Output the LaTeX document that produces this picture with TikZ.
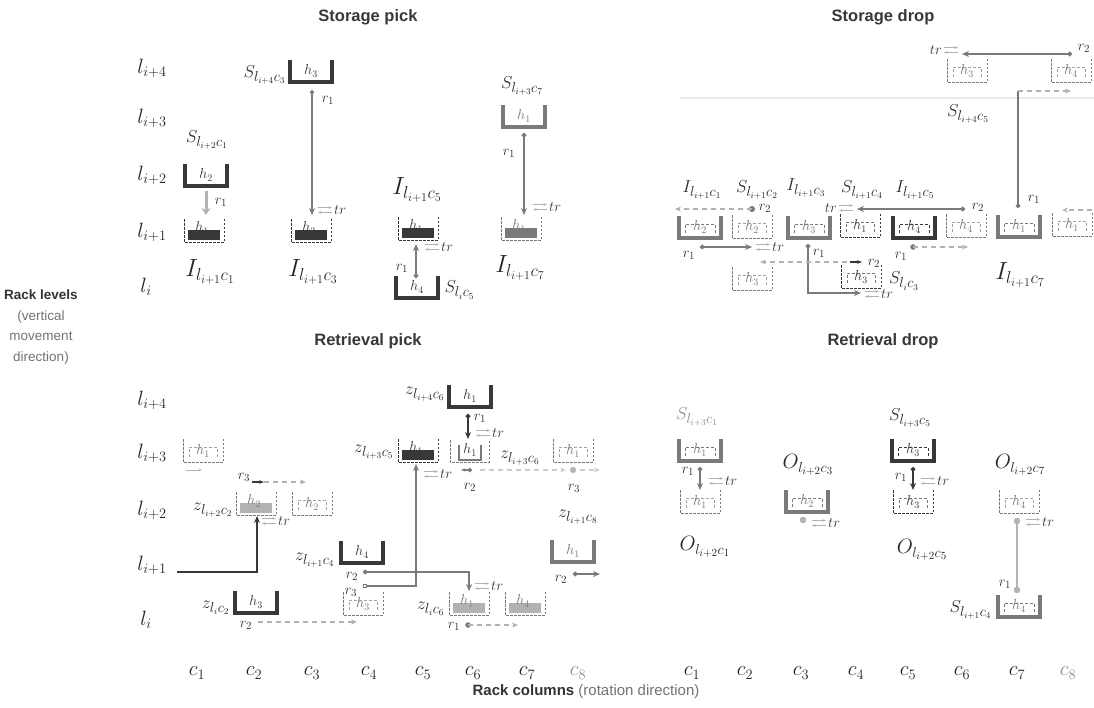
\documentclass[tikz,border=0pt]{standalone}
\usepackage{fontspec}
\setsansfont{Liberation Sans}
\usetikzlibrary{arrows.meta}
\colorlet{dk}{black!78}
\colorlet{md}{black!52}
\colorlet{lt}{black!30}
\colorlet{vl}{black!20}
\tikzset{
  title/.style={font=\sffamily\bfseries\fontsize{16.5}{18}\selectfont, text=black!78},
  rowlab/.style={font=\fontsize{22}{22}\selectfont, text=black!85},
  collab/.style={font=\fontsize{22}{22}\selectfont, text=black!85},
  ilab/.style={font=\fontsize{24}{24}\selectfont, text=black!85},
  ilabs/.style={font=\fontsize{19}{19}\selectfont, text=black!85},
  olab/.style={font=\fontsize{21}{21}\selectfont, text=black!85},
  slab/.style={font=\fontsize{19}{19}\selectfont, text=black!85},
  zlab/.style={font=\fontsize{19}{19}\selectfont, text=black!85},
  hlab/.style={font=\fontsize{14}{14}\selectfont, inner sep=0pt},
  rlab/.style={font=\fontsize{15}{15}\selectfont, text=black!80, inner sep=1pt},
  conn/.style={line width=1.3pt, {Circle[length=4.5pt]}-{Stealth[length=7pt,width=6pt]}},
  dconn/.style={line width=1.1pt, dash pattern=on 5pt off 4pt, -{Stealth[length=6pt,width=5pt]}},
  trarrow/.style={line width=0.9pt, lt},
  slotline/.style={line width=1pt, dash pattern=on 2.5pt off 1.5pt},
}
\newcommand\Tray[5]{%
  \draw[line width=3.5pt, draw=#4] (#2-21,#3-22) -- (#2-21,#3) -- (#2+21,#3) -- (#2+21,#3-22);
  \node[hlab, text=#4] (#1) at (#2,#3-11) {$#5$};}
\newcommand\TrayB[5]{%
  \draw[line width=3.5pt, draw=#4] (#2-21,#3-22) -- (#2-21,#3) -- (#2+21,#3) -- (#2+21,#3-22);
  \draw[densely dashed, line width=0.7pt, draw=#4] (#2-15,#3-5) -- (#2-15,#3-14) -- (#2+15,#3-14) -- (#2+15,#3-5);
  \node[hlab, text=#4] (#1) at (#2,#3-11) {$#5$};}
\newcommand\Slot[5]{%
  \draw[slotline, draw=#4] (#2-20,#3-23) -- (#2-20,#3) -- (#2+20,#3) -- (#2+20,#3-23);
  \draw[densely dashed, line width=0.6pt, draw=#4!70] (#2-14,#3-5) -- (#2-14,#3-15) -- (#2+14,#3-15) -- (#2+14,#3-5);
  \node[hlab, text=#4] (#1) at (#2,#3-11) {$#5$};}
\newcommand\BarSlot[6]{%
  \draw[slotline, draw=#4] (#2-20,#3-23) -- (#2-20,#3) -- (#2+20,#3) -- (#2+20,#3-23);
  \fill[#5] (#2-16,#3-12) rectangle (#2+16,#3-2);
  \node[hlab, text=#4] (#1) at (#2-2,#3-14) {$#6$};}
\newcommand\Tr[3]{%
  \draw[trarrow,-{Stealth[length=3.5pt]}] (#2,#3-2.5) -- (#2+14,#3-2.5);
  \draw[trarrow,{Stealth[length=3.5pt]}-] (#2,#3+2.5) -- (#2+14,#3+2.5);
  \node[rlab, anchor=west] (#1) at (#2+15,#3) {$tr$};}
\newcommand\TrL[3]{%
  \node[rlab, anchor=east] (#1) at (#2,#3) {$tr$};
  \draw[trarrow,-{Stealth[length=3.5pt]}] (#2+1,#3-2.5) -- (#2+15,#3-2.5);
  \draw[trarrow,{Stealth[length=3.5pt]}-] (#2+1,#3+2.5) -- (#2+15,#3+2.5);}
\begin{document}
\begin{tikzpicture}[x=1pt,y=-1pt]
\useasboundingbox (0,0) rectangle (1094,707);
\fill[white] (0,0) rectangle (1094,707);
% faint rack frame hints
\draw[black!8, line width=1.5pt] (680,98) -- (1094,98);
% titles
\node[title] (t1) at (368,17) {Storage pick};
\node[title] (t2) at (883,17) {Storage drop};
\node[title] (t3) at (368,341) {Retrieval pick};
\node[title] (t4) at (883,341) {Retrieval drop};
% axis labels
\node[align=center, font=\sffamily\fontsize{13.5}{20.5}\selectfont, text=black!55] (rl) at (41,327)
  {\textcolor{black!80}{\textbf{Rack levels}}\\(vertical\\movement\\direction)};
\node[font=\sffamily\fontsize{15}{17}\selectfont, text=black!55] (rc) at (586,692)
  {\textcolor{black!80}{\textbf{Rack columns}} (rotation direction)};
% row labels
\foreach \yy/\k in {68/4,118/3,175/2,232/1}{\node[rowlab] (rta\k) at (152,\yy) {$l_{i+\k}$};}
\node[rowlab] (rta0) at (146,287) {$l_{i}$};
\foreach \yy/\k in {400/4,453/3,510/2,565/1}{\node[rowlab] (rba\k) at (152,\yy) {$l_{i+\k}$};}
\node[rowlab] (rba0) at (146,620) {$l_{i}$};
% column labels
\foreach \xx/\k in {197/1,254/2,312/3,369/4,423/5,473/6,527/7}{\node[collab] (cl\k) at (\xx,673) {$c_{\k}$};}
\node[collab, text=black!45] (cl8) at (578,673) {$c_{8}$};
\foreach \xx/\k in {692/1,745/2,801/3,856/4,908/5,962/6,1017/7}{\node[collab] (cr\k) at (\xx,673) {$c_{\k}$};}
\node[collab, text=black!45] (cr8) at (1068,673) {$c_{8}$};

%%%%%%%% STORAGE PICK
% c3
\node[slab, anchor=east] (spS3) at (289,75) {$S_{l_{i+4}c_3}$};
\Tray{spT3}{311}{82}{dk}{h_3}
\coordinate (spa1) at (312,90); \coordinate (spa2) at (312,215);
\draw[conn, md, line width=1.1pt] (spa1) -- (spa2);
\node[rlab] (spr3) at (328,100) {$r_1$};
\Tr{sptr3}{318}{210}
\BarSlot{spB3}{311}{242}{dk}{dk}{h_3}
\node[ilab] (spI3) at (313,272) {$I_{l_{i+1}c_3}$};
% c1
\node[slab] (spS1) at (207,140) {$S_{l_{i+2}c_1}$};
\Tray{spT1}{206}{186}{dk}{h_2}
\coordinate (spb1) at (206,191); \coordinate (spb2) at (206,215);
\draw[line width=3pt, lt, -{Stealth[length=7pt,width=9pt]}] (spb1) -- (spb2);
\node[rlab] (spr1) at (221,202) {$r_1$};
\BarSlot{spB1}{204}{242}{dk}{dk}{h_1}
\node[ilab] (spI1) at (210,272) {$I_{l_{i+1}c_1}$};
% c5
\node[ilab] (spI5) at (417,190) {$I_{l_{i+1}c_5}$};
\BarSlot{spB5}{418}{240}{dk}{dk}{h_1}
\Tray{spT5}{417}{298}{dk}{h_4}
\node[slab, anchor=west] (spS5) at (441,290) {$S_{l_ic_5}$};
\coordinate (spc1) at (416,278); \coordinate (spc2) at (416,244);
\draw[conn, md] (spc1) -- (spc2);
\node[rlab] (spr5) at (402,268) {$r_1$};
\Tr{sptr5}{425}{247}
% c7
\node[slab] (spS7) at (522,86) {$S_{l_{i+3}c_7}$};
\Tray{spT7}{524}{127}{md}{h_1}
\coordinate (spd1) at (524,133); \coordinate (spd2) at (524,215);
\draw[conn, md] (spd1) -- (spd2);
\node[rlab] (spr7) at (509,153) {$r_1$};
\Tr{sptr7}{533}{207}
\BarSlot{spB7}{521}{240}{md}{md}{h_1}
\node[ilab] (spI7) at (520,268) {$I_{l_{i+1}c_7}$};

%%%%%%%% STORAGE DROP
% top row
\TrL{sdtr0}{943}{50}
\coordinate (sda1) at (1072,54); \coordinate (sda2) at (962,54);
\draw[conn, md] (sda1) -- (sda2);
\node[rlab] (sdr0) at (1084,48) {$r_2$};
\Slot{sdB3t}{967}{82}{md}{h_3}
\Slot{sdB4t}{1071}{82}{md}{h_4}
\node[slab] (sdS5t) at (968,114) {$S_{l_{i+4}c_5}$};
\coordinate (sdv1) at (1018,208); \coordinate (sdv2) at (1018,91); \coordinate (sdv3) at (1071,91);
\draw[md, line width=1.3pt, {Circle[length=4.5pt]}-] (sdv1) -- (sdv2);
\draw[dconn, lt] (sdv2) -- (sdv3);
\node[rlab] (sdr7) at (1034,199) {$r_1$};
% c1 / c2
\node[ilabs] (sdI1) at (702,190) {$I_{l_{i+1}c_1}$};
\TrayB{sdT1}{700}{238}{md}{h_2}
\node[slab] (sdS2) at (757,190) {$S_{l_{i+1}c_2}$};
\Slot{sdB2}{752}{238}{md}{h_2}
\coordinate (sde1) at (752,209); \coordinate (sde2) at (675,209);
\draw[md, line width=1pt, fill=md] (sde1) circle (2.5pt);
\draw[dconn, lt] (sde1) -- (sde2);
\node[rlab] (sdr2) at (765,208) {$r_2$};
\coordinate (sdf1) at (700,247); \coordinate (sdf2) at (752,247);
\draw[conn, md] (sdf1) -- (sdf2);
\node[rlab] (sdr1) at (689,255) {$r_1$};
\Tr{sdtr1}{756}{247}
% c3
\node[ilabs] (sdI3) at (806,188) {$I_{l_{i+1}c_3}$};
\TrayB{sdT3}{809}{238}{md}{h_3}
\coordinate (sdg1) at (808,244); \coordinate (sdg2) at (808,293); \coordinate (sdg3) at (861,293);
\draw[conn, md] (sdg1) -- (sdg2) -- (sdg3);
\node[rlab] (sdr3) at (819,253) {$r_1$};
\Tr{sdtr3}{865}{294}
\Slot{sdB3l}{752}{290}{md}{h_3}
\coordinate (sdh1) at (847,262); \coordinate (sdh2) at (760,262);
\draw[dconn, lt] (sdh1) -- (sdh2);
\Slot{sdB4l}{861}{288}{dk}{h_3}
\coordinate (sdk1) at (850,262); \coordinate (sdk2) at (862,262);
\draw[dk, line width=1.3pt, -{Stealth[length=5pt]}] (sdk1) -- (sdk2);
\node[rlab] (sdr4l) at (874,263) {$r_2$};
\node[slab] (sdS3l) at (904,281) {$S_{l_ic_3}$};
% c4
\node[slab] (sdS4) at (862,190) {$S_{l_{i+1}c_4}$};
\TrL{sdtr4}{838}{208}
\Slot{sdB4}{860}{237}{dk}{h_1}
\coordinate (sdm1) at (965,209); \coordinate (sdm2) at (857,209);
\draw[conn, md] (sdm1) -- (sdm2);
\node[rlab] (sdr5) at (978,207) {$r_2$};
% c5
\node[ilabs] (sdI5) at (915,190) {$I_{l_{i+1}c_5}$};
\TrayB{sdT5}{914}{238}{dk}{h_4}
\coordinate (sdn1) at (913,247); \coordinate (sdn2) at (968,247);
\draw[md, fill=md] (sdn1) circle (2.5pt);
\draw[dconn, lt] (sdn1) -- (sdn2);
\node[rlab] (sdr5b) at (901,256) {$r_1$};
% c6, c7, c8
\Slot{sdB6}{966}{237}{md}{h_4}
\TrayB{sdT7}{1019}{237}{md}{h_1}
\node[ilab] (sdI7) at (1020,275) {$I_{l_{i+1}c_7}$};
\Slot{sdB8}{1072}{236}{md}{h_1}
\coordinate (sdp1) at (1092,210); \coordinate (sdp2) at (1062,210);
\draw[dconn, lt] (sdp1) -- (sdp2);

%%%%%%%% RETRIEVAL PICK
\Slot{rpB1}{203}{462}{md}{h_1}
\coordinate (rpa1) at (186,470); \coordinate (rpa2) at (202,470);
\draw[trarrow, -{Stealth[length=3.5pt]}] (rpa1) -- (rpa2);
% c2 l_{i+2}
\node[zlab, anchor=east] (rpz2) at (236,510) {$z_{l_{i+2}c_2}$};
\BarSlot{rpB2}{256}{515}{md}{lt}{h_2}
\node[rlab] (rpr3a) at (244,477) {$r_3$};
\coordinate (rpb1) at (252,482); \coordinate (rpb2) at (264,482); \coordinate (rpb3) at (306,482);
\draw[dk, line width=1.3pt, -{Stealth[length=5pt]}] (rpb1) -- (rpb2);
\draw[dconn, lt] (rpb2) -- (rpb3);
\Tr{rptr2}{262}{521}
\Slot{rpB3}{312}{515}{md}{h_2}
\coordinate (rpc1) at (177,572); \coordinate (rpc2) at (257,572); \coordinate (rpc3) at (257,516);
\draw[dk, line width=1.5pt, -{Stealth[length=7pt,width=6pt]}] (rpc1) -- (rpc2) -- (rpc3);
% c2 l_i
\node[zlab, anchor=east] (rpz2l) at (233,608) {$z_{l_ic_2}$};
\Tray{rpT2}{256}{613}{dk}{h_3}
\node[rlab] (rpr2a) at (246,625) {$r_2$};
\coordinate (rpd1) at (258,622); \coordinate (rpd2) at (357,622);
\draw[dconn, lt] (rpd1) -- (rpd2);
\Slot{rpB4l}{363}{615}{md}{h_3}
% c4 l_{i+1}
\node[zlab, anchor=east] (rpz4) at (338,560) {$z_{l_{i+1}c_4}$};
\Tray{rpT4}{362}{563}{dk}{h_4}
\node[rlab] (rpr2b) at (352,576) {$r_2$};
\node[rlab] (rpr3b) at (351,592) {$r_3$};
\coordinate (rpe1) at (363,572); \coordinate (rpe2) at (469,572); \coordinate (rpe3) at (469,591);
\draw[conn, md] (rpe1) -- (rpe2) -- (rpe3);
\coordinate (rpf1) at (363,586); \coordinate (rpf2) at (416,586); \coordinate (rpf3) at (416,464);
\draw[md, line width=1.3pt, {Square[length=4pt,open]}-{Stealth[length=7pt,width=6pt]}] (rpf1) -- (rpf2) -- (rpf3);
% c5 l_{i+3}
\node[zlab, anchor=east] (rpz5) at (397,452) {$z_{l_{i+3}c_5}$};
\BarSlot{rpB5}{418}{462}{dk}{dk}{h_1}
\Tr{rptr5}{424}{474}
% c6 l_{i+4}
\node[zlab, anchor=east] (rpz6t) at (448,394) {$z_{l_{i+4}c_6}$};
\Tray{rpT6}{470}{407}{dk}{h_1}
\coordinate (rpg1) at (468,414); \coordinate (rpg2) at (468,439);
\draw[conn, dk] (rpg1) -- (rpg2);
\node[rlab] (rpr1a) at (480,418) {$r_1$};
\Tr{rptr6}{476}{433}
% c6 l_{i+3}
\draw[slotline, md] (450,440) -- (450,462) -- (489,462) -- (489,440);
\draw[line width=2.2pt, md] (459,445) -- (459,460) -- (481,460) -- (481,445);
\node[hlab, text=dk] (rpB6) at (470,450) {$h_1$};
\node[zlab] (rpz6) at (520,458) {$z_{l_{i+3}c_6}$};
\node[rlab] (rpr2c) at (470,487) {$r_2$};
\coordinate (rph1) at (472,470); \coordinate (rph2) at (461,470);
\draw[md, line width=1.2pt, {Circle[length=4.5pt]}-{Stealth[length=4pt]}] (rph1) -- (rph2);
\coordinate (rph3) at (480,470); \coordinate (rph4) at (566,470); \coordinate (rph5) at (580,470); \coordinate (rph6) at (600,470);
\draw[dconn, vl] (rph3) -- (rph4);
\draw[vl, fill=lt] (573,470) circle (3pt);
\draw[dconn, vl] (rph5) -- (rph6);
\node[rlab] (rpr3c) at (574,488) {$r_3$};
% c8
\Slot{rpB8}{573}{462}{md}{h_1}
\node[zlab] (rpz8) at (578,517) {$z_{l_{i+1}c_8}$};
\Tray{rpT8}{573}{562}{md}{h_1}
\node[rlab] (rpr2d) at (561,579) {$r_2$};
\coordinate (rpk1) at (573,574); \coordinate (rpk2) at (600,574);
\draw[conn, md] (rpk1) -- (rpk2);
% c6 l_i, c7 l_i
\node[zlab, anchor=east] (rpz6l) at (448,609) {$z_{l_ic_6}$};
\BarSlot{rpB6l}{469}{615}{md}{lt}{h_1}
\Tr{rptr6l}{475}{586}
\node[rlab] (rpr1b) at (454,626) {$r_1$};
\coordinate (rpm1) at (468,625); \coordinate (rpm2) at (518,625);
\draw[md, fill=md] (rpm1) circle (2.5pt);
\draw[dconn, lt] (rpm1) -- (rpm2);
\BarSlot{rpB7l}{525}{615}{md}{lt}{h_4}

%%%%%%%% RETRIEVAL DROP
% c1
\node[slab, text=black!45] (rdS1) at (697,417) {$S_{l_{i+3}c_1}$};
\TrayB{rdT1}{700}{461}{md}{h_1}
\coordinate (rda1) at (700,467); \coordinate (rda2) at (700,490);
\draw[conn, md] (rda1) -- (rda2);
\node[rlab] (rdr1) at (688,471) {$r_1$};
\Tr{rdtr1}{709}{481}
\Slot{rdB1}{700}{513}{md}{h_1}
\node[olab] (rdO1) at (705,547) {$O_{l_{i+2}c_1}$};
% c3
\node[olab] (rdO3) at (808,465) {$O_{l_{i+2}c_3}$};
\TrayB{rdT3}{807}{512}{md}{h_2}
\draw[lt, fill=lt] (803,520) circle (3pt);
\Tr{rdtr3}{812}{523}
% c5
\node[slab] (rdS5) at (910,418) {$S_{l_{i+3}c_5}$};
\TrayB{rdT5}{913}{461}{dk}{h_3}
\coordinate (rdb1) at (913,467); \coordinate (rdb2) at (913,490);
\draw[conn, dk] (rdb1) -- (rdb2);
\node[rlab] (rdr5) at (901,477) {$r_1$};
\Tr{rdtr5}{921}{481}
\Slot{rdB5}{913}{513}{dk}{h_3}
\node[olab] (rdO5) at (922,550) {$O_{l_{i+2}c_5}$};
% c7
\node[olab] (rdO7) at (1020,465) {$O_{l_{i+2}c_7}$};
\Slot{rdB7}{1019}{513}{md}{h_4}
\coordinate (rdc1) at (1017,521); \coordinate (rdc2) at (1017,590);
\draw[lt, line width=1.2pt] (rdc1) -- (rdc2);
\draw[lt, fill=lt] (rdc1) circle (3pt);
\draw[lt, fill=lt] (rdc2) circle (3pt);
\Tr{rdtr7}{1026}{522}
\node[rlab] (rdr7) at (1005,584) {$r_1$};
\node[slab, anchor=east] (rdS4) at (995,610) {$S_{l_{i+1}c_4}$};
\TrayB{rdT7}{1019}{617}{md}{h_4}
\end{tikzpicture}
\end{document}
